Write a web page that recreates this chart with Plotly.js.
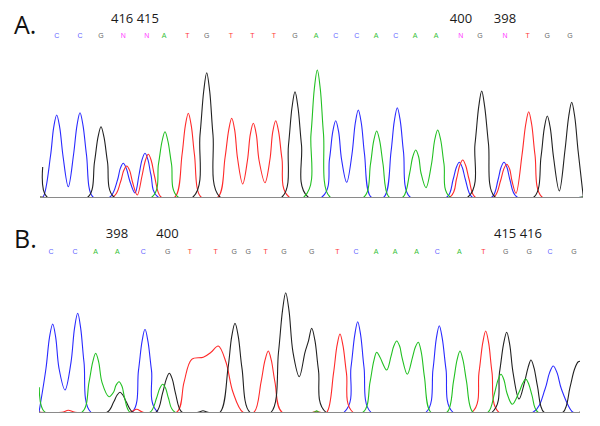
<!DOCTYPE html>
<html><head><meta charset="utf-8">
<script src="https://cdn.plot.ly/plotly-3.0.1.min.js"></script>
<style>html,body{margin:0;padding:0;background:#fff}#chart{width:600px;height:426px}</style>
</head><body><div id="chart"></div>
<script>
// ---------- Panel A: [scan position, signal height] ----------
const aBlue = [[40,0],[43,0],[50.5,41],[53.7,69.7],[56.7,82],[59.7,69.7],[63,41],[68.3,10.3],[73.5,42],[77,71.7],[80,84.3],[83,71.7],[86.5,42],[93,0],
[110,0],[117.5,17],[120.3,28.6],[123.3,33.7],[126.3,28.6],[129.5,17],[135,4],[139,22],[142,37.1],[145,43.7],[148,37.1],[151,22],[158,0],
[322,0],[329.5,38],[332.7,64.9],[335.7,76.3],[338.7,64.9],[341.5,38],[346.7,14.7],[352,43],[355.3,74],[358.3,87],[361.3,74],[364.5,43],[371,0],
[384,0],[391,45],[394.3,75.9],[397.3,89.3],[400.3,75.9],[403.5,45],[410,0],
[447,0],[453,17],[456.3,29.5],[459.3,34.7],[462.3,29.5],[465.5,17],[472,0],
[492,0],[498,17],[501,29.5],[504,34.7],[507,29.5],[510,17],[517,0],[583,0]];
const aRed = [[40,0],[113,0],[120.5,15],[123.7,26.4],[126.7,31],[129.7,26.4],[132.5,15],[137.3,2],[142,21],[145.3,36.3],[148.3,42.7],[151.3,36.3],[154.5,21],[161,0],
[175,0],[182,42],[185.3,71.1],[188.3,83.7],[191.3,71.1],[194.5,42],[201,0],
[218,0],[225,39],[228.7,66.9],[231.7,78.7],[234.7,66.9],[237.5,39],[242.7,13],[247.5,37],[250.3,62.6],[253.3,73.7],[256.3,62.6],[259,37],[265,14.3],[270,38],[272.7,64.9],[275.7,76.3],[278.7,64.9],[282,38],[289,0],
[450,0],[456.5,18],[459.7,31.5],[462.7,37],[465.7,31.5],[469,18],[475,0],
[494,0],[500.5,16],[503.7,27.8],[506.7,32.7],[509.7,27.8],[512,16],[516,3.7],[522,42],[525.7,72.5],[528.7,85.3],[531.7,72.5],[535,42],[542,0],[583,0]];
const aBlack = [[42.7,30],[47,0],[88,0],[94.5,35],[98,59.8],[101,70.3],[104,59.8],[107.5,35],[114,0],
[193,0],[200,62],[203.7,105.7],[206.7,124.3],[209.7,105.7],[213,62],[220,0],
[282,0],[288.5,52],[292,89.5],[295,105.3],[298,89.5],[301.5,52],[308,0],
[468,0],[475,53],[478.7,90.1],[481.7,106],[484.7,90.1],[488.5,53],[495,0],
[534,0],[541,40],[544.3,68.9],[547.3,81],[550.3,68.9],[553.5,40],[559.3,6],[565,47],[568.7,80.5],[571.7,94.7],[574.7,80.5],[578,47],[583.3,0]];
const aGreen = [[40,0],[152,0],[158.5,33],[162,55.5],[165,65.3],[168,55.5],[171.5,33],[178,0],
[304,0],[311,63],[314.3,108],[317.3,127],[320.3,108],[323.5,63],[330,0],
[364,0],[370.5,33],[373.7,56.1],[376.7,66],[379.7,56.1],[383,33],[389,0],
[403,0],[409.5,23],[412.7,40],[415.7,47],[418.7,40],[421,24],[426,9.3],[431.5,33],[434.7,57],[437.7,67],[440.7,57],[444,33],[450,0],[583,0]];
const aBases = ['C','C','G','N','N','A','T','G','T','T','T','G','A','C','C','A','C','A','A','N','G','N','T','G','G'];
const aBasePos = [56.7,80,101,123.3,146.7,164,187.3,206.7,231,252.3,274,295,316,335.7,356.7,376,395.7,415,436,460.7,480,505,527.7,547.3,570];
const aMarks = ['416 415','400','398'];
const aMarkPos = [135,461,505];

// ---------- Panel B ----------
const bBlue = [[39,0],[46,44],[49.5,75],[52.7,88.3],[55.7,75],[59,44],[65,22.3],[71,50],[74.5,84],[77.7,99],[80.7,84],[84,50],[91,0],
[132,0],[138.5,42],[142,70.6],[145,83],[148,70.6],[151.5,42],[158,0],
[344,0],[351,45],[354.7,77],[357.7,90.6],[360.7,77],[364,45],[371,0],
[426,0],[433,43],[436.3,73.6],[439.3,86.6],[442.3,73.6],[446,43],[453,0],
[533,0],[545,23],[549.5,39.4],[553.3,46.3],[557.1,39.4],[561.5,23],[573,0],[580,0]];
const bRed = [[39,0],[62,0],[68.3,2],[75,0],[130,0],[136.7,3],[143,0],
[176.7,0],[184,30],[191.7,53],[203.3,55],[211,60],[218.3,66.3],[226,50],[233,20],[243,0],
[254,0],[261,30],[265,52.1],[268.3,61.3],[271.3,52.1],[275,30],[282,0],
[313,0],[316,1],[320,0],
[326.7,0],[333.5,39],[337,66.6],[340,78.3],[343,66.6],[346.5,39],[353,0],
[472,0],[479,40],[482.7,69.1],[485.7,81.3],[488.7,69.1],[492,40],[499,0],[580,0]];
const bBlack = [[39,0],[107,0],[113.5,10],[117,17],[120,20],[123,17],[126.5,10],[133,0],
[156,0],[162.5,19],[166.3,33.2],[169.3,39],[172.3,33.2],[175.5,19],[182,0],
[198,0],[203,1.6],[208,0],
[220,0],[228,44],[231.7,75.6],[235,89],[238.3,75.6],[242,44],[250,0],
[271,0],[278.5,60],[282.5,101.7],[285.7,119.6],[289,101.7],[293,60],[299.3,35.6],[305,60],[308.5,71.4],[311.7,84],[315,71.4],[318.5,42],[326,0],
[492,0],[499.5,40],[503.5,68],[506.7,80],[509.7,68],[513,40],[519,13.3],[524.5,30],[528,44.5],[531,52.3],[534,44.5],[537.5,26],[544,0],
[563,0],[570,25],[574.5,43],[578.3,50.6],[582,51]];
const bGreen = [[39.3,25],[45,0],[82,0],[89,30],[92.7,50.2],[95.7,59],[98.7,50.2],[102,30],[109,15.6],[113.5,20],[116,27],[119,30.6],[122,26],[124.5,15],[130,0],
[150,0],[156.5,14],[159.7,23.8],[162.7,28],[165.7,23.8],[168.5,14],[175,0],
[314,0],[316.7,1.5],[319,0],
[363,0],[370,30],[373.7,51],[376.7,60],[380,55],[386.7,42.3],[391,56],[393.7,66],[396.7,71.3],[399.7,66],[402,55],[407.3,38],[412.5,55],[415.3,65],[418.3,70],[421.3,60],[424.5,35],[431,0],
[447,0],[453.5,31],[457,52.1],[460,61.3],[463,52.1],[466.5,31],[473,0],
[488,0],[494.5,19],[498,32.3],[501,38],[504,32.3],[507,19],[512.3,8],[519,20],[522.7,29],[525.7,33.3],[528.7,28.3],[532,17],[538,0],[580,0]];
const bBases = ['C','C','A','A','C','G','T','T','G','G','T','G','G','T','C','A','A','A','C','A','T','G','G','C','G'];
const bBasePos = [51,75,95.7,117.3,143.3,167.7,190,215.7,234.3,248.3,265.7,284,311.7,337.3,356,376,395,416.7,437.3,459.3,483.3,505.7,529.3,550,574];
const bMarks = ['398','400','415 416'];
const bMarkPos = [117,167.5,518];

// ---------- styling ----------
const traceColor = {A:'#22c022', C:'#2a2aff', G:'#222222', T:'#ff2a2a'};
const baseColor = {A:'#33c033', C:'#6464ff', G:'#666666', T:'#ff3a3a', N:'#ff44ff'};
const BASE_H = 160.5, MARK_H = 177.5;

function line(pts, col, xa, ya) {
  return {x:pts.map(p=>p[0]), y:pts.map(p=>p[1]), xaxis:xa, yaxis:ya, type:'scatter', mode:'lines',
    line:{color:col, width:1.1, shape:'spline', smoothing:1}, hoverinfo:'skip'};
}
function bases(b, pos, xa, ya) {
  return {x:pos, y:pos.map(()=>BASE_H), text:b, xaxis:xa, yaxis:ya, type:'scatter', mode:'text',
    textfont:{family:'Liberation Sans, Arial, sans-serif', size:7, color:b.map(c=>baseColor[c])},
    cliponaxis:false, hoverinfo:'skip'};
}
function marks(t, pos, xa, ya) {
  return {x:pos, y:pos.map(()=>MARK_H), text:t, xaxis:xa, yaxis:ya, type:'scatter', mode:'text',
    textfont:{family:'Open Sans, sans-serif', size:13, color:'#1a1a1a'},
    cliponaxis:false, hoverinfo:'skip'};
}

const data = [
  line(aBlue,traceColor.C,'x','y'),
  line(aRed,traceColor.T,'x','y'),
  line(aBlack,traceColor.G,'x','y'),
  line(aGreen,traceColor.A,'x','y'),
  bases(aBases,aBasePos,'x','y'),
  marks(aMarks,aMarkPos,'x','y'),
  line(bBlue,traceColor.C,'x2','y2'),
  line(bRed,traceColor.T,'x2','y2'),
  line(bBlack,traceColor.G,'x2','y2'),
  line(bGreen,traceColor.A,'x2','y2'),
  bases(bBases,bBasePos,'x2','y2'),
  marks(bMarks,bMarkPos,'x2','y2')
];

const H = 426, W = 600;
const xa = (d0,d1,anchor)=>({domain:[d0/W,d1/W], range:[d0,d1], anchor, showline:true, linecolor:'#8a8a8a', linewidth:1,
  showgrid:false, zeroline:false, showticklabels:false, ticks:'', fixedrange:true});
const ya = (base, anchor)=>({domain:[1-base/H, 1-(base-187)/H], range:[0,187], anchor, visible:false, showgrid:false, zeroline:false, fixedrange:true});

const layout = {
  width:W, height:H, margin:{l:0,r:0,t:0,b:0}, paper_bgcolor:'#fff', plot_bgcolor:'#fff', showlegend:false,
  xaxis: xa(40,583,'y'), yaxis: ya(197,'x'),
  xaxis2: xa(39,580,'y2'), yaxis2: ya(412.3,'x2'),
  annotations:[
    {text:'A.', xref:'paper', yref:'paper', x:12/W, y:1-24/H, xanchor:'left', yanchor:'middle', showarrow:false,
     font:{family:'Open Sans, sans-serif', size:25, color:'#111'}},
    {text:'B.', xref:'paper', yref:'paper', x:12/W, y:1-238/H, xanchor:'left', yanchor:'middle', showarrow:false,
     font:{family:'Open Sans, sans-serif', size:25, color:'#111'}}
  ]
};
Plotly.newPlot('chart', data, layout, {staticPlot:true, displayModeBar:false});
</script></body></html>
